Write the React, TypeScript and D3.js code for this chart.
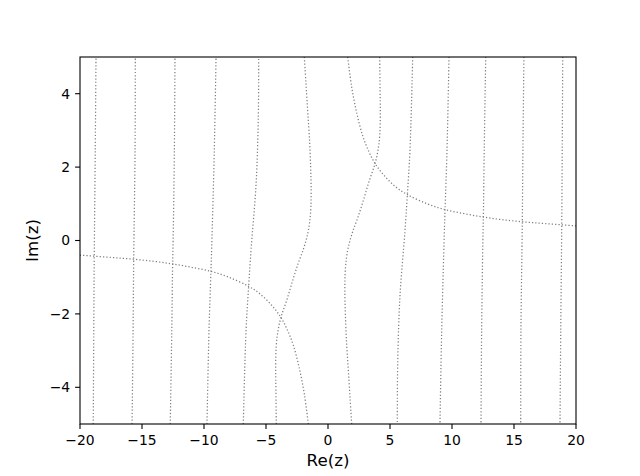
import React from 'react';
import * as d3 from 'd3';

type Pt = [number, number];

// curves (Re, Im)
const hyperRight: Pt[] = [
  [1.59, 5.0], [1.9, 4.2], [2.3, 3.5], [2.8, 2.85], [3.3, 2.42], [3.79, 2.1],
  [4.5, 1.78], [5.5, 1.45], [6.4, 1.25], [8.0, 1.0], [9.44, 0.84], [11.0, 0.73],
  [12.5, 0.64], [14.0, 0.57], [15.7, 0.51], [17.5, 0.46], [20.0, 0.4]
];
const hyperLeft: Pt[] = [
  [-1.59, -5.0], [-1.9, -4.2], [-2.3, -3.5], [-2.8, -2.85], [-3.3, -2.42], [-3.79, -2.1],
  [-4.5, -1.78], [-5.5, -1.45], [-6.4, -1.25], [-8.0, -1.0], [-9.44, -0.84], [-11.0, -0.73],
  [-12.5, -0.64], [-14.0, -0.57], [-15.7, -0.51], [-17.5, -0.46], [-20.0, -0.4]
];
const bendRight: Pt[] = [
  [1.91, -5.0], [1.78, -4.3], [1.64, -3.54], [1.5, -2.8], [1.4, -2.0], [1.36, -1.4],
  [1.38, -0.9], [1.48, -0.5], [1.64, -0.18], [1.95, 0.2], [2.4, 0.62], [2.85, 1.09],
  [3.3, 1.6], [3.79, 2.09], [4.05, 2.5], [4.18, 2.91], [4.22, 3.5], [4.2, 4.09], [4.17, 5.0]
];
const bendLeft: Pt[] = [
  [-1.91, 5.0], [-1.78, 4.3], [-1.64, 3.54], [-1.5, 2.8], [-1.4, 2.0], [-1.36, 1.4],
  [-1.38, 0.9], [-1.48, 0.5], [-1.64, 0.18], [-1.95, -0.2], [-2.4, -0.62], [-2.85, -1.09],
  [-3.3, -1.6], [-3.79, -2.09], [-4.05, -2.5], [-4.18, -2.91], [-4.22, -3.5], [-4.2, -4.09], [-4.17, -5.0]
];
const vertRight: Pt[][] = [
  [[6.83, 5], [6.61, 2.45], [6.4, 1.25], [6.2, 0.23], [5.8, -1.54], [5.62, -3.36], [5.59, -5]],
  [[9.76, 5], [9.6, 2.5], [9.44, 0.84], [9.38, 0.2], [9.17, -2.45], [9.03, -5]],
  [[12.72, 5], [12.6, 2.5], [12.53, 0.65], [12.5, 0.2], [12.39, -2.45], [12.34, -5]],
  [[15.8, 5], [15.72, 2.5], [15.67, 0.52], [15.56, -2.45], [15.54, -5]],
  [[18.93, 5], [18.89, 2.5], [18.85, 0.41], [18.77, -2.45], [18.71, -5]]
];
const vertLeft: Pt[][] = [
  [[-6.83, -5], [-6.61, -2.45], [-6.4, -1.25], [-6.2, -0.23], [-5.8, 1.54], [-5.62, 3.36], [-5.59, 5]],
  [[-9.76, -5], [-9.6, -2.5], [-9.44, -0.84], [-9.38, -0.2], [-9.17, 2.45], [-9.03, 5]],
  [[-12.72, -5], [-12.6, -2.5], [-12.53, -0.65], [-12.5, -0.2], [-12.39, 2.45], [-12.34, 5]],
  [[-15.8, -5], [-15.72, -2.5], [-15.67, -0.52], [-15.56, 2.45], [-15.54, 5]],
  [[-18.93, -5], [-18.89, -2.5], [-18.85, -0.41], [-18.77, 2.45], [-18.71, 5]]
];

const xTicks = [-20, -15, -10, -5, 0, 5, 10, 15, 20];
const yTicks = [-4, -2, 0, 2, 4];

const W = 640;
const H = 476;
const margin = { top: 57, right: 64, bottom: 52, left: 80 };

export default function App() {
  const iw = W - margin.left - margin.right;
  const ih = H - margin.top - margin.bottom;
  const x = d3.scaleLinear().domain([-20, 20]).range([0, iw]);
  const y = d3.scaleLinear().domain([-5, 5]).range([ih, 0]);
  const line = d3.line<Pt>()
    .x(d => x(d[0]))
    .y(d => y(d[1]))
    .curve(d3.curveCatmullRom.alpha(0.5));
  const fmt = d3.format('d');
  const curves = [hyperRight, hyperLeft, bendRight, bendLeft, ...vertRight, ...vertLeft];
  const font = 'DejaVu Sans, sans-serif';

  return (
    <svg width={W} height={H} style={{ position: 'absolute', left: 0, top: 0, background: '#fff' }}>
      <defs>
        <clipPath id="plot">
          <rect width={iw} height={ih} />
        </clipPath>
      </defs>
      <g transform={`translate(${margin.left},${margin.top})`}>
        <g clipPath="url(#plot)">
          {curves.map((c, i) => (
            <path key={i} d={line(c) || ''} fill="none" stroke="#808080"
              strokeWidth={1.25} strokeDasharray="1.25,2.06" />
          ))}
        </g>
        <rect width={iw} height={ih} fill="none" stroke="#000" strokeWidth={1.1} />
        {xTicks.map(t => (
          <g key={t} transform={`translate(${x(t)},${ih})`}>
            <line y2={4.9} stroke="#000" strokeWidth={1.1} />
            <text y={21} textAnchor="middle" fontFamily={font} fontSize={13.9} fill="#000">{fmt(t)}</text>
          </g>
        ))}
        {yTicks.map(t => (
          <g key={t} transform={`translate(0,${y(t)})`}>
            <line x2={-4.9} stroke="#000" strokeWidth={1.1} />
            <text x={-9.8} dy="0.35em" textAnchor="end" fontFamily={font} fontSize={13.9} fill="#000">{fmt(t)}</text>
          </g>
        ))}
        <text x={iw / 2} y={ih + 42} textAnchor="middle" fontFamily={font} fontSize={16.7} fill="#000">Re(z)</text>
        <text transform={`translate(${-42},${ih / 2}) rotate(-90)`} textAnchor="middle" fontFamily={font} fontSize={16.7} fill="#000">Im(z)</text>
      </g>
    </svg>
  );
}
